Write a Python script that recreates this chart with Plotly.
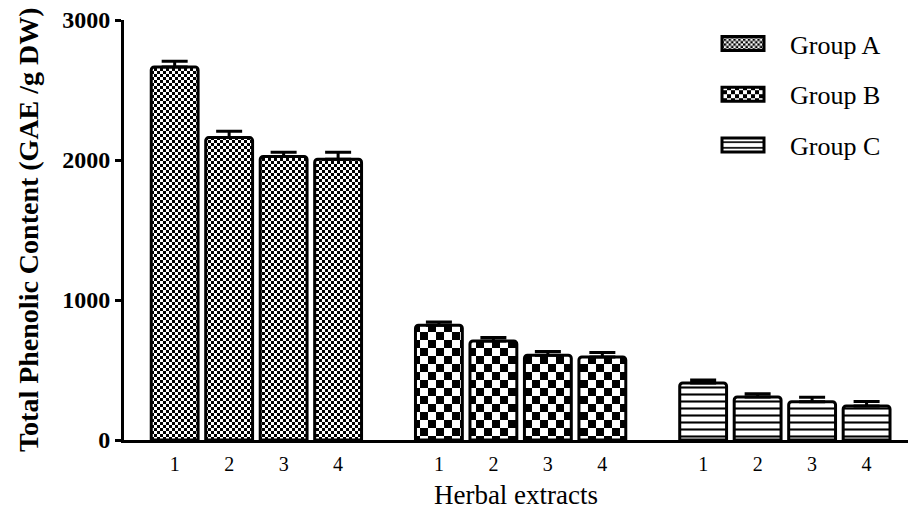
import plotly.graph_objects as go

groups = ["Group A", "Group B", "Group C"]
extracts = ["1", "2", "3", "4"]
values = {
    "Group A": [2665, 2160, 2025, 2005],
    "Group B": [820, 708, 605, 593],
    "Group C": [408, 308, 273, 243],
}
errors = {
    "Group A": [40, 45, 30, 50],
    "Group B": [22, 25, 27, 32],
    "Group C": [20, 22, 32, 32],
}
y_ticks = [0, 1000, 2000, 3000]
y_title = "Total Phenolic Content (GAE /g DW)"
x_title = "Herbal extracts"

group_step = 4.85
patterns = {
    "Group A": dict(shape=".", size=6, solidity=0.5, fgcolor="black", bgcolor="white", fillmode="replace"),
    "Group B": dict(shape=".", size=16, solidity=0.5, fgcolor="black", bgcolor="white", fillmode="replace"),
    "Group C": dict(shape="-", size=7, solidity=0.3, fgcolor="black", bgcolor="white", fillmode="replace"),
}

fig = go.Figure()
tickvals, ticktext = [], []
for gi, g in enumerate(groups):
    xs = [gi * group_step + i for i in range(len(extracts))]
    tickvals += xs
    ticktext += extracts
    fig.add_trace(go.Bar(
        x=xs, y=values[g], name=g, width=0.86, legendgroup=g,
        marker=dict(color="white", pattern=patterns[g],
                    line=dict(color="black", width=3), cornerradius=3),
        error_y=dict(type="data", symmetric=False, array=errors[g],
                     arrayminus=[0] * len(extracts), color="black",
                     thickness=3, width=13),
    ))

serif = "Liberation Serif"
fig.update_layout(
    width=908, height=510,
    margin=dict(l=124, r=0, t=20, b=70),
    plot_bgcolor="white", paper_bgcolor="white",
    font=dict(family=serif, color="black"),
    showlegend=True,
    legend=dict(x=0.7296, y=1.0, xanchor="left", yanchor="top",
                font=dict(family=serif, size=26, color="black"),
                itemwidth=84,
                tracegroupgap=14, bgcolor="rgba(0,0,0,0)"),
    xaxis=dict(range=[-0.93, 13.46], tickvals=tickvals, ticktext=ticktext,
               showline=True, linecolor="black", linewidth=3, ticks="",
               showgrid=False, zeroline=False, ticklabelstandoff=4,
               tickfont=dict(family=serif, size=20, color="black"),
               title=dict(text=x_title, font=dict(family=serif, size=27, color="black"),
                          standoff=14)),
    yaxis=dict(range=[0, 3000], tickvals=y_ticks, showline=True, linecolor="black",
               linewidth=3, ticks="outside", ticklen=6, tickwidth=3, tickcolor="black",
               showgrid=False, zeroline=False,
               tickfont=dict(family=serif, size=24, color="black", weight="bold")),
    annotations=[dict(text="<b>" + y_title + "</b>", textangle=-90,
                      xref="paper", yref="paper", x=-0.1224, y=0.5,
                      xanchor="center", yanchor="middle", showarrow=False,
                      font=dict(family=serif, size=28, color="black"))],
)

# style-only tweaks: checkerboard fills and wider legend swatches
style_js = """
var ns = 'http://www.w3.org/2000/svg';
document.querySelectorAll('pattern').forEach(function(p) {
  if (!p.querySelector('circle')) return;
  var w = parseFloat(p.getAttribute('width'));
  var h = parseFloat(p.getAttribute('height'));
  while (p.firstChild) p.removeChild(p.firstChild);
  function r(x, y, ww, hh, f) {
    var e = document.createElementNS(ns, 'rect');
    e.setAttribute('x', x); e.setAttribute('y', y);
    e.setAttribute('width', ww); e.setAttribute('height', hh);
    e.setAttribute('fill', f);
    p.appendChild(e);
  }
  r(0, 0, w, h, 'white');
  r(0, 0, w / 2, h / 2, 'black');
  r(w / 2, h / 2, w / 2, h / 2, 'black');
});
document.querySelectorAll('.legend .legendpoints path').forEach(function(p) {
  p.setAttribute('d', 'M21,7H-21V-7H21Z');
  p.style.strokeWidth = '3px';
});
"""

fig.write_html("out.html", post_script=style_js)
